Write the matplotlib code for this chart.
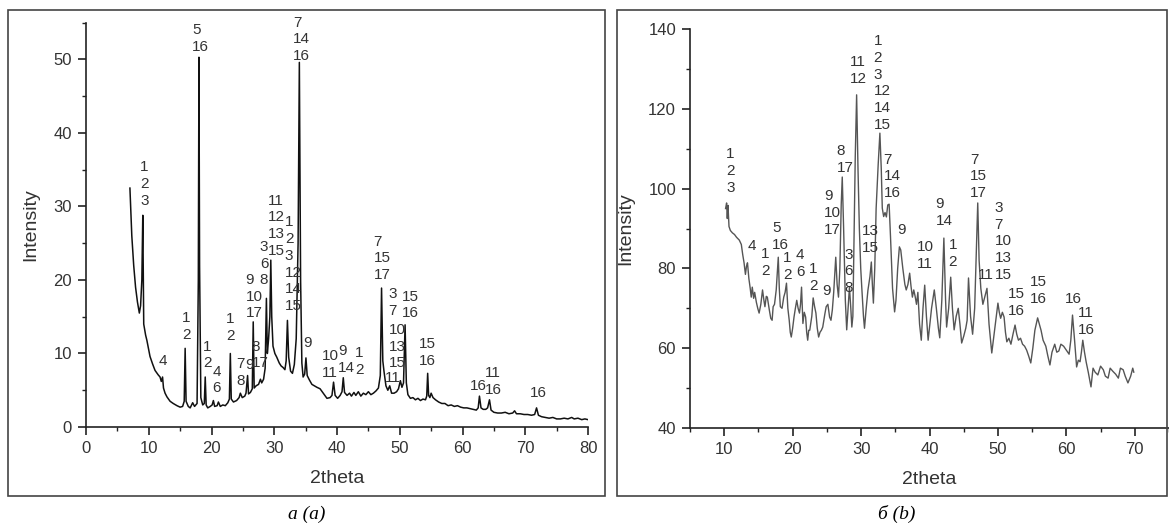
import matplotlib
matplotlib.use("Agg")
import matplotlib.pyplot as plt
from matplotlib.patches import Rectangle
from matplotlib.ticker import MultipleLocator

plt.rcParams['font.family'] = ['Liberation Sans', 'DejaVu Sans']

# panel (a): (2theta, intensity)
a_pts = [(7.0, 32.5), (7.3, 26), (7.6, 22), (7.9, 19), (8.2, 17), (8.5, 15.5), (8.7, 16.5), (8.9, 20),
         (9.05, 28.8), (9.2, 14), (9.5, 12.5), (9.7, 11.8), (10.2, 9.6), (10.6, 8.6), (11.0, 7.7),
         (11.5, 7.1), (11.8, 6.8), (12.0, 6.2), (12.2, 6.8), (12.35, 5.3), (12.6, 4.6), (12.9, 4.1),
         (13.4, 3.5), (13.9, 3.2), (14.5, 2.9), (15.0, 2.7), (15.4, 2.8), (15.65, 3.5), (15.8, 10.7),
         (15.95, 3.5), (16.3, 2.8), (16.6, 2.6), (17.0, 3.3), (17.3, 2.8), (17.7, 3.2), (17.9, 20),
         (18.0, 50.3), (18.1, 22), (18.3, 4), (18.6, 3.0), (18.85, 3.2), (19.0, 6.8), (19.15, 3.0),
         (19.4, 2.6), (19.8, 2.8), (20.1, 3.0), (20.3, 3.6), (20.5, 2.8), (20.9, 2.9), (21.1, 3.4),
         (21.4, 2.8), (21.8, 3.0), (22.2, 2.9), (22.6, 3.3), (22.85, 3.8), (23.0, 10.0), (23.15, 3.8),
         (23.5, 3.4), (24.0, 3.6), (24.4, 4.0), (24.6, 4.6), (24.9, 4.0), (25.3, 4.2), (25.5, 4.6),
         (25.75, 7.0), (25.9, 4.5), (26.2, 4.7), (26.5, 5.2), (26.65, 14.3), (26.8, 5.3), (27.1, 5.6),
         (27.5, 5.8), (27.8, 6.5), (28.0, 6.0), (28.3, 6.5), (28.55, 8), (28.75, 17.5), (28.9, 10),
         (29.1, 12), (29.3, 15), (29.45, 22.7), (29.6, 15), (29.8, 11), (30.1, 10), (30.4, 9.5),
         (30.8, 8.7), (31.1, 8.3), (31.4, 8.1), (31.7, 7.8), (31.9, 9), (32.1, 14.5), (32.3, 9.5),
         (32.6, 7.6), (32.9, 7.3), (33.2, 8.5), (33.5, 12), (33.8, 25), (34.0, 49.6), (34.2, 20),
         (34.4, 8.7), (34.6, 6.8), (34.85, 7.2), (35.05, 9.4), (35.25, 7.0), (35.6, 6.4), (36.0, 5.8),
         (36.4, 5.6), (36.8, 5.4), (37.3, 5.2), (37.8, 4.6), (38.4, 3.9), (38.9, 4.0), (39.2, 4.3),
         (39.45, 6.1), (39.7, 4.3), (40.1, 3.9), (40.5, 4.3), (40.8, 4.8), (41.0, 6.7), (41.2, 4.7),
         (41.6, 4.3), (42.0, 4.6), (42.3, 4.2), (42.7, 4.7), (43.0, 4.3), (43.4, 4.8), (43.8, 4.2),
         (44.2, 4.6), (44.6, 4.4), (45.0, 4.8), (45.4, 4.4), (45.8, 4.6), (46.2, 4.9), (46.6, 5.3),
         (46.9, 7), (47.1, 18.9), (47.3, 9), (47.5, 7.5), (47.8, 5.6), (48.1, 5.0), (48.4, 5.6),
         (48.7, 4.6), (49.1, 4.6), (49.5, 4.8), (49.8, 5.2), (50.1, 6.3), (50.35, 5.4), (50.6, 6),
         (50.85, 13.9), (51.05, 6), (51.3, 4.4), (51.7, 3.9), (52.1, 4.0), (52.5, 3.7), (52.9, 3.9),
         (53.3, 3.6), (53.7, 3.8), (54.1, 3.7), (54.3, 4.2), (54.45, 7.3), (54.6, 4.3), (54.8, 4.0),
         (55.0, 4.6), (55.3, 4.0), (55.7, 3.7), (56.2, 3.4), (56.7, 3.2), (57.2, 3.2), (57.7, 2.9),
         (58.2, 3.0), (58.7, 2.8), (59.2, 2.9), (59.7, 2.7), (60.2, 2.6), (60.7, 2.6), (61.2, 2.5),
         (61.7, 2.4), (62.2, 2.3), (62.5, 2.6), (62.7, 4.2), (62.95, 2.6), (63.3, 2.4), (63.7, 2.4),
         (64.0, 2.6), (64.3, 3.7), (64.55, 2.3), (65.0, 2.0), (65.6, 1.9), (66.2, 1.9), (66.8, 2.0),
         (67.4, 1.8), (68.0, 1.9), (68.3, 2.2), (68.6, 1.8), (69.2, 1.8), (69.8, 1.7), (70.4, 1.7),
         (71.0, 1.6), (71.5, 1.7), (71.8, 2.6), (72.1, 1.6), (72.6, 1.4), (73.2, 1.3), (73.8, 1.2),
         (74.4, 1.3), (75.0, 1.1), (75.6, 1.1), (76.2, 1.2), (76.8, 1.1), (77.4, 1.3), (77.8, 1.1),
         (78.4, 1.2), (79.0, 1.0), (79.5, 1.1), (80.0, 1.0)]

# panel (b)
b_pts = [(10.2, 95), (10.35, 96.4), (10.45, 92.5), (10.55, 95.8), (10.7, 90.5), (10.9, 89.5), (11.2, 88.9),
         (11.5, 88.5), (11.8, 87.8), (12.2, 87.1), (12.5, 86.0), (12.7, 83.5), (12.9, 81.4), (13.1, 78.5),
         (13.25, 80.5), (13.4, 81.4), (13.6, 77.5), (13.8, 75), (13.95, 72.8), (14.1, 75.3), (14.3, 72.5),
         (14.45, 74.0), (14.7, 71.5), (14.9, 70), (15.1, 68.8), (15.35, 71), (15.6, 74.6), (15.8, 72),
         (15.95, 70.4), (16.15, 73), (16.3, 72.8), (16.6, 69.5), (16.8, 67.5), (17.0, 67.0), (17.15, 70.4),
         (17.35, 71), (17.6, 74.6), (17.9, 82.8), (18.05, 75), (18.2, 70.4), (18.45, 70), (18.7, 72.8),
         (18.9, 74), (19.1, 76.3), (19.3, 70), (19.5, 67), (19.65, 64), (19.8, 62.8), (20.0, 65),
         (20.2, 67.8), (20.4, 70), (20.6, 72), (20.8, 70), (21.0, 68.8), (21.15, 71), (21.3, 75.3),
         (21.5, 66.2), (21.7, 69), (21.9, 67.8), (22.05, 64), (22.2, 62), (22.35, 64.5), (22.5, 64.5),
         (22.8, 68), (23.0, 72.6), (23.2, 70.5), (23.4, 68.8), (23.6, 65), (23.8, 62.8), (24.0, 64),
         (24.2, 64.5), (24.4, 65.3), (24.7, 68.5), (24.9, 70.4), (25.15, 71), (25.4, 67.8), (25.6, 67),
         (25.8, 69.6), (26.0, 74), (26.3, 82.8), (26.5, 76), (26.7, 72.8), (26.9, 80), (27.1, 96),
         (27.25, 102.9), (27.45, 90), (27.7, 72), (27.9, 64.6), (28.1, 70), (28.3, 75.3), (28.5, 70),
         (28.65, 65.3), (28.8, 68), (29.0, 90), (29.15, 108), (29.35, 123.5), (29.55, 105), (29.75, 90),
         (29.95, 80), (30.1, 75.3), (30.35, 68), (30.5, 65), (30.75, 70), (31.0, 74.5), (31.3, 78),
         (31.5, 81.6), (31.65, 76), (31.8, 71.3), (32.0, 80), (32.2, 95), (32.5, 106), (32.75, 113.9),
         (32.95, 105), (33.1, 95.1), (33.3, 93), (33.5, 94), (33.7, 92.9), (33.9, 95.9), (34.1, 96.1),
         (34.3, 88), (34.6, 75), (34.9, 69.1), (35.1, 72), (35.35, 80), (35.6, 85.4), (35.8, 84.6),
         (36.1, 80), (36.4, 76), (36.6, 74.6), (36.85, 76), (37.1, 78.8), (37.3, 75.5), (37.5, 72.8),
         (37.7, 74.6), (37.9, 73), (38.1, 71), (38.3, 74), (38.55, 66), (38.8, 62), (39.05, 70),
         (39.3, 75.8), (39.55, 68), (39.8, 62), (40.05, 66), (40.3, 70), (40.7, 74.6), (41.0, 70),
         (41.3, 65), (41.5, 62.6), (41.8, 72), (42.1, 87.6), (42.35, 72), (42.5, 65.3), (42.8, 70),
         (43.1, 77.8), (43.35, 70), (43.6, 64.6), (43.9, 68), (44.2, 70), (44.45, 66), (44.7, 61.3),
         (45.0, 63), (45.3, 65), (45.5, 67), (45.7, 77.6), (46.0, 68), (46.3, 63.5), (46.6, 70),
         (46.85, 85), (47.05, 96.4), (47.25, 82), (47.5, 75), (47.8, 71), (48.1, 73), (48.4, 75),
         (48.7, 66), (49.1, 58.8), (49.4, 63), (49.6, 66), (50.0, 71.3), (50.2, 69), (50.4, 67.5),
         (50.65, 69), (50.9, 67.8), (51.1, 64), (51.3, 61.6), (51.6, 62.5), (51.9, 61), (52.2, 63.5),
         (52.5, 65.8), (52.75, 63.5), (53.0, 62), (53.3, 62.5), (53.6, 61), (53.9, 60.5), (54.2, 59.5),
         (54.5, 58), (54.8, 56.3), (55.1, 60), (55.4, 64.5), (55.6, 66), (55.8, 67.6), (56.05, 66),
         (56.3, 64.5), (56.6, 62), (57.0, 60.5), (57.3, 58), (57.6, 55.8), (57.9, 59), (58.3, 61),
         (58.6, 59), (58.9, 59.3), (59.2, 61), (59.6, 60.5), (60.0, 59.5), (60.4, 58.5), (60.65, 62),
         (60.9, 68.3), (61.2, 62), (61.5, 55.3), (61.75, 57), (62.0, 56.6), (62.2, 59), (62.4, 62),
         (62.65, 59), (62.9, 56.5), (63.2, 54), (63.6, 50.3), (63.9, 55), (64.2, 54), (64.6, 53.3),
         (65.0, 55.5), (65.4, 54.6), (65.7, 53), (66.1, 52.5), (66.4, 55), (66.8, 54.2), (67.2, 53.5),
         (67.6, 52.5), (67.9, 55), (68.3, 54.6), (68.6, 53), (69.0, 51.3), (69.4, 53), (69.7, 55.0),
         (69.85, 54)]

# peak labels: (left x, bottom y, text)
a_labels = [(8.6, 29.8, "1\n2\n3"), (16.9, 50.8, "5\n16"), (33.0, 49.5, "7\n14\n16"), (11.5, 8.0, "4"),
            (15.3, 11.6, "1\n2"), (18.7, 7.7, "1\n2"), (20.1, 4.3, "4\n6"), (22.3, 11.4, "1\n2"),
            (23.9, 5.3, "7\n8"), (25.3, 7.5, "9"), (26.4, 7.7, "8\n17"), (25.4, 14.5, "9\n10\n17"),
            (27.7, 19.0, "3\n6\n8"), (29.0, 23.0, "11\n12\n13\n15"), (31.7, 15.5, "1\n2\n3\n12\n14\n15"),
            (34.6, 10.5, "9"), (37.6, 6.4, "10\n11"), (40.2, 7.1, "9\n14"), (42.9, 6.8, "1\n2"),
            (45.8, 19.7, "7\n15\n17"), (48.2, 14.8, "3\n7"), (48.2, 7.7, "10\n13\n15"),
            (50.3, 14.5, "15\n16"), (47.7, 5.7, "11"), (53.0, 8.0, "15\n16"), (61.2, 4.6, "16"),
            (63.6, 4.1, "11\n16"), (70.8, 3.7, "16")]
b_labels = [(10.3, 98.4, "1\n2\n3"), (13.4, 83.9, "4"), (15.4, 77.6, "1\n2"), (17.0, 84.1, "5\n16"),
            (18.6, 76.6, "1\n2"), (20.5, 77.3, "4\n6"), (22.4, 73.8, "1\n2"), (24.3, 72.6, "9"),
            (24.6, 87.9, "9\n10\n17"), (26.4, 103.4, "8\n17"), (27.6, 73.3, "3\n6\n8"),
            (28.3, 125.7, "11\n12"), (30.1, 83.4, "13\n15"), (31.8, 114.2, "1\n2\n3\n12\n14\n15"),
            (33.3, 97.1, "7\n14\n16"), (35.3, 87.9, "9"), (38.1, 79.3, "10\n11"), (40.9, 90.1, "9\n14"),
            (42.8, 79.8, "1\n2"), (45.9, 97.1, "7\n15\n17"), (49.5, 76.6, "3\n7\n10\n13\n15"),
            (47.0, 76.6, "11"), (51.4, 67.6, "15\n16"), (54.7, 70.6, "15\n16"), (59.8, 70.6, "16"),
            (61.7, 62.8, "11\n16")]

a_x, a_y = zip(*a_pts)
b_x, b_y = zip(*b_pts)

fig = plt.figure(figsize=(11.69, 5.29), dpi=100)

# outer frames round each panel
for x0, x1 in [(8, 605), (617, 1167)]:
    fig.patches.append(Rectangle((x0 / 1169, 33 / 529), (x1 - x0) / 1169, 486 / 529,
                                 transform=fig.transFigure, fill=False, edgecolor='#444444', lw=1.2))

ax1 = fig.add_axes([86 / 1169, 102 / 529, 502 / 1169, 404.3 / 529])
ax2 = fig.add_axes([690 / 1169, 101 / 529, 479 / 1169, 399 / 529])

ax1.plot(a_x, a_y, color='#111111', lw=1.1)
ax2.plot(b_x, b_y, color='#555555', lw=1.0)

ax1.set_xlim(0, 80)
ax1.set_ylim(0, 55)
ax1.xaxis.set_major_locator(MultipleLocator(10))
ax1.xaxis.set_minor_locator(MultipleLocator(5))
ax1.yaxis.set_major_locator(MultipleLocator(10))
ax1.yaxis.set_minor_locator(MultipleLocator(5))

ax2.set_xlim(5, 75)
ax2.set_ylim(40, 140)
ax2.set_xticks([10, 20, 30, 40, 50, 60, 70])
ax2.xaxis.set_minor_locator(MultipleLocator(5))
ax2.yaxis.set_major_locator(MultipleLocator(20))
ax2.yaxis.set_minor_locator(MultipleLocator(10))

for ax, labels in [(ax1, a_labels), (ax2, b_labels)]:
    ax.patch.set_visible(False)
    for side in ['top', 'right']:
        ax.spines[side].set_visible(False)
    for side in ['left', 'bottom']:
        ax.spines[side].set_color('#222222')
        ax.spines[side].set_linewidth(1.2)
    ax.tick_params(which='major', direction='out', length=6, width=1.2, color='#222222',
                   labelsize=12, labelcolor='#333333', pad=4)
    ax.tick_params(which='minor', direction='out', length=3, width=1.0, color='#222222')
    ax.set_xlabel("2theta", fontsize=14, color='#333333', labelpad=10)
    ax.set_ylabel("Intensity", fontsize=14, color='#333333', labelpad=10)
    for x, y, t in labels:
        ax.text(x, y, t, fontsize=11, color='#333333', ha='left', va='bottom',
                multialignment='left', linespacing=1.25, clip_on=False)

fig.text(307 / 1169, 1 - 514 / 529, "а (a)", fontsize=14, family='Liberation Serif', style='italic',
         ha='center', va='center')
fig.text(897 / 1169, 1 - 514 / 529, "б (b)", fontsize=14, family='Liberation Serif', style='italic',
         ha='center', va='center')

fig.savefig("out.png", dpi=100)
